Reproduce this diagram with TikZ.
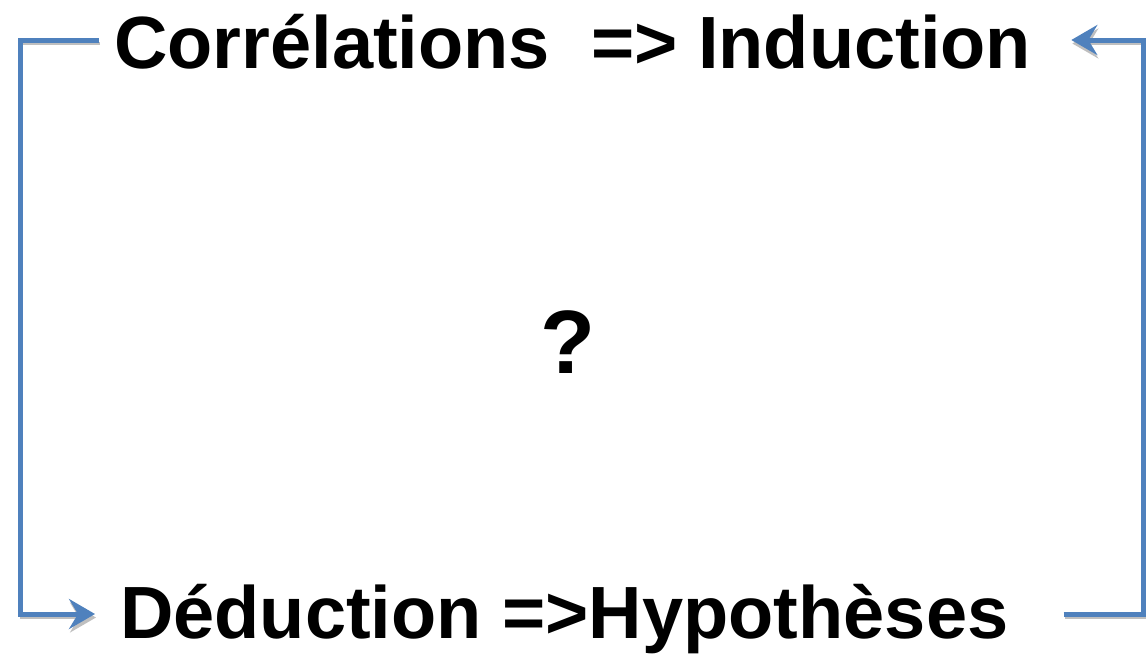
\documentclass[tikz,border=0pt]{standalone}
\usepackage{fontspec}
\setmainfont{Liberation Sans}
\usetikzlibrary{arrows.meta,calc}
\definecolor{officeblue}{HTML}{4F81BD}
\tikzset{
  bigtext/.style={inner sep=0pt, font=\fontsize{74}{80}\selectfont\bfseries},
  conn/.style={draw=officeblue, line width=5pt,
    -{Stealth[length=26pt,width=30pt,inset=9pt]},
    preaction={draw=gray!50, line width=3pt,
      transform canvas={shift={(1pt,-3.5pt)}}}}
}
\begin{document}
\begin{tikzpicture}[x=1pt,y=-1pt]
\useasboundingbox (0,0) rectangle (1147,656);
\node[bigtext, anchor=base west] (top) at (114,68) {Corrélations \ => Induction};
\node[bigtext, anchor=base west] (bot) at (120,638) {Déduction =>Hypothèses};
\node[inner sep=0pt, font=\fontsize{90}{96}\selectfont\bfseries, anchor=base] (q) at (568,373) {?};
\coordinate (lc) at (20,614);
\coordinate (rc) at (1143,40);
\draw[conn] ([shift={(-15pt,28pt)}]top.base west) -| (lc) |- ([shift={(-25pt,24pt)}]bot.base west);
\draw[conn] ([shift={(55pt,24pt)}]bot.base east) -| (rc) |- ([shift={(40pt,28pt)}]top.base east);
\end{tikzpicture}
\end{document}
